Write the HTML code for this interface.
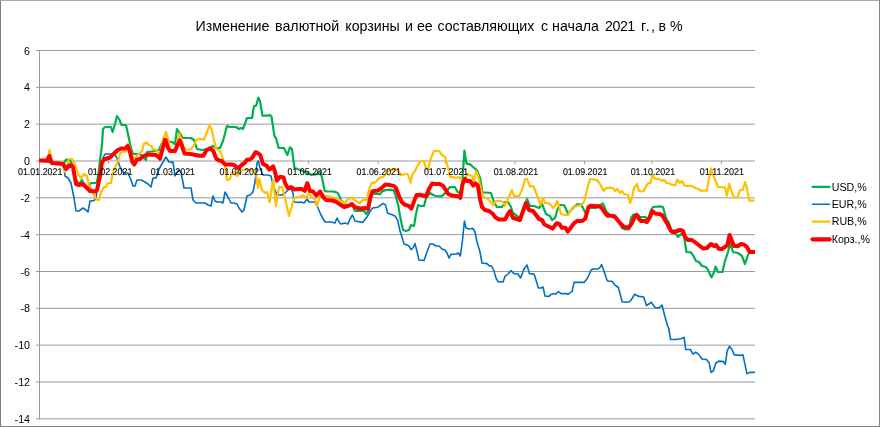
<!DOCTYPE html>
<html><head><meta charset="utf-8">
<style>
html,body{margin:0;padding:0;background:#fff;}
body{width:880px;height:427px;overflow:hidden;}
svg{display:block;}
text{font-family:"Liberation Sans", Arial, sans-serif;fill:#000;}
.t{filter:grayscale(1);}
</style></head>
<body>
<svg width="880" height="427" viewBox="0 0 880 427">
<rect x="0" y="0" width="880" height="427" fill="#fff"/>
<g stroke="#999" stroke-width="1" fill="none">
<line x1="36" y1="50.50" x2="755" y2="50.50" />
<line x1="36" y1="87.33" x2="755" y2="87.33" />
<line x1="36" y1="124.17" x2="755" y2="124.17" />
<line x1="36" y1="161.00" x2="755" y2="161.00" />
<line x1="36" y1="197.84" x2="755" y2="197.84" />
<line x1="36" y1="234.67" x2="755" y2="234.67" />
<line x1="36" y1="271.50" x2="755" y2="271.50" />
<line x1="36" y1="308.34" x2="755" y2="308.34" />
<line x1="36" y1="345.17" x2="755" y2="345.17" />
<line x1="36" y1="382.01" x2="755" y2="382.01" />
<line x1="36" y1="418.84" x2="755" y2="418.84" />
<line x1="39.5" y1="50" x2="39.5" y2="419.3" />
<line x1="108.60" y1="161.00" x2="108.60" y2="164.00" />
<line x1="171.46" y1="161.00" x2="171.46" y2="164.00" />
<line x1="241.06" y1="161.00" x2="241.06" y2="164.00" />
<line x1="308.41" y1="161.00" x2="308.41" y2="164.00" />
<line x1="378.00" y1="161.00" x2="378.00" y2="164.00" />
<line x1="445.36" y1="161.00" x2="445.36" y2="164.00" />
<line x1="514.95" y1="161.00" x2="514.95" y2="164.00" />
<line x1="584.55" y1="161.00" x2="584.55" y2="164.00" />
<line x1="651.90" y1="161.00" x2="651.90" y2="164.00" />
<line x1="721.50" y1="161.00" x2="721.50" y2="164.00" />
</g>
<g fill="none" stroke-linejoin="round" stroke-linecap="butt">
<polyline stroke="#00b050" stroke-width="2.2" points="39,161 47,161 51,162 64,163 66,159.6 70,160 73,166 76,180 79,184 82,180 85,187 87,189 91,183 95,183 97,182 99,170 100,160 102,145 103,129 105,127 111,127 112.6,132 115,124 117,116 119.6,120 121.6,125 126,125 128.4,136 131,148 133,154 136,154 140,154 144,158 146,160 147,152 156,151 159,150 162,143 166,141 172,142 175,144 177,129 179,132 183,138 191,138 194,140 197,149 202,150 208,149 213,146 216,148 220,148 223,141 227,126 230,127 236,127 239,129 241,128 243,129 247,118 252,118 254,106 256,106 258.4,97.6 260,101 262.4,115.6 268,115.6 270,115 271.6,117 274.4,136 276,138 278.6,148 284,148 287.4,155 290,147.4 292,149 294.4,167.7 300,170 307.3,172.9 311.1,174.8 316.9,174.2 320.1,170.9 322.1,178 324.6,190.9 327.2,191.5 333.7,191.5 337.5,192.8 340,197.3 341,200 344,204 349,206 352,205 355,211 361,211 364,211 366.4,214 368.7,210.2 371.7,193.5 376.3,193.8 380.1,194.2 382.4,191.2 385.4,190.1 391.5,189.7 393.8,190.4 396,197 398,204 400,216 403,230 406,231 409,230 411,225 414,226 416,214 418,205 421,206 424,206 426,198 430,193 433,195 436,196 441.3,196.3 444.4,194 449.7,187.2 455,187.2 458,192.5 460.5,192.5 462.3,181.1 464.4,150.7 466.4,163.6 470.2,164.4 472.5,166.5 477,170.4 480.1,178 482.4,192.5 485.4,192.5 491,193 494,202 497,207 502,207 505,202 508,202 511,207 513,213 517,216 520,218 523,211 527,199 530,206 534,206 539,208 542,204 544,209 546,214 550,216 552,220 555,218 558,208 560,205 564,205 566,209 568,214 571,210 574,207 577,204.4 581,204.4 583,208 586,214 589,208 596,208 600,205 603,203.4 606,211 610,215 615,215 618,220 622,228 625,229.4 629,229.4 631,218 633,215 636,214 640,217 645,217 648,219 651,210 653,207 660,206.4 663,207 666,218 669,223 672,233 676,234 678,237 681,234 684,236 686.4,252 691,252.4 694,257 696,261 699,262 702,266 706,267 709,272 711.4,277.4 714,272 715.6,266.6 718,272 722.4,272 725,261 728,252 730,243 733,252 738,253 742,256 745,264 748,255 750,252 755,252"/>
<polyline stroke="#0070c0" stroke-width="1.6" points="39,161 64,164 65,176 68,178 71,183 74,198 76,211 79,211 83,208 86,210 88,212 90,201 94,200.6 96,198 98,184 100,170 103,158 105,154 111,154 114,155 116,156 118,161 120,167 124,173 128,173 131,180 133,186 135,186 137,180 141,180 145,182 148,184 151,187 153,178 156,178 159,169 163,162 166,157 169,162 173,162 175,176 177,172 179,170 181,172 184,188 191,188 193,200 196,203 205,203 208,205 211,206 213,196 215,201 217,202 221,202 223,203 225,192 228,197 231,203 234,203 237,204 239,208 242,212 244,210 247,196 250,195 253,192 255,182 257,163 258.4,161 260,168 263,175 268,175 271,176 273,185 277,195 282,195 285,193 288,190 291,189 293,193 294,202 298,202.4 301,202 304,203 307,199 309,202 315,202 318,208 321,215 325,222 331,222 335,223 337,218 339,222 341,224 345,223 348,224 350,219 352.4,215 355,221 362.6,222.4 366.4,217.8 369.5,212.5 372.5,208 377.8,207.2 380.1,205.7 383.2,203.4 385.4,204.9 387.7,213.3 392.3,214.8 395.3,216.3 397.6,220.1 400,231 402,237 404,244 407,245 409,246 411,249.6 413,248 415,243.6 416.4,249 419,260 424,260.4 427,252 430,244 433,244 436,246 439,246 442,249 445,250 447,253 449,258 451,254.4 456,254 458.4,253 460.3,256 462.4,241 464.4,221 466,228 469,229 473,228.4 475,232 477,242 480,252 482,263 487,263.6 489,265.6 491.6,266 493.6,270 496,278 498,281.6 503,282 505,276.4 508,274 511,270.6 514,273.6 518,274 520.6,278 524,269 527,265 529.4,273.6 534,274 536,280 538.4,288 541,288 543,287 545,296 549,296.4 551,294.4 554,293.6 556,294 558.4,291.6 561,293.6 566,293.6 568,294.4 571,292 572,291.6 574,282.4 584,282.4 587,279 589,275 591,270 593,269 598,269 600,267.4 601.6,264.6 604,271 606.7,279.4 608,281.3 612,281.3 614.8,284.8 618.3,287.5 620.2,294.3 622.1,301.8 625.6,302.3 629.6,301.8 632.3,298.3 634.5,294.3 639.1,296.4 643.7,297 646.4,305.6 648,304.5 651.2,302.3 655.3,307.7 659.3,307.7 662,305 664.7,315.8 667.4,325.3 668.7,328 670.6,339.5 675.5,339.5 680.9,338.7 684.1,337.4 685.7,349.5 690.3,349.5 693,354.1 695.7,352.2 699.2,354.9 701.9,359 706.5,359.5 709.2,363 711,372.4 713.2,371 715.9,363 718.6,361.1 723.5,361.6 725.3,364.3 727.2,350.9 729.4,346.3 732.1,349.5 734.2,354.9 740.2,355.4 742.9,354.9 745,364.3 746.9,373.8 749.6,372.4 755,372.4"/>
<polyline stroke="#ffc000" stroke-width="2.2" points="39,160.6 47,160.6 49.6,150 52,162 56,163 63,164 65,172 69,159 72,159 75,164 78,174 81,178 84,174 87,176 89,185 92,190 95,197 97,200 99,200 101,192 104,187 106,187 108,183 111,183 113,172 116,166 118,161 120,154 122,152 126.2,151.4 127.7,143.8 129.2,146 131,153 133.8,159 135.3,157.5 139,153.7 142.2,150.7 143.7,143.8 146.8,142.3 149,145.3 151.3,146 152.8,149 155.9,149.9 158.2,152.2 159.7,156.7 163,139 166,132 168.4,140.4 170.7,151 174.5,152.6 176.7,145 179,133.6 181.3,138.9 183.6,146.5 185.9,149.6 191.2,149.3 193.5,145.8 196.5,139.7 199.6,138.9 204.1,139.7 205.7,135.1 209.5,125.2 211.8,129.8 214,140.4 216.3,148.8 220.1,151.1 222.4,157.2 225.4,167.8 227,180 230,179 232,172 234,172 237,176 239,174 242,170 246,170 249,170 252,169 256,174 258,188 259.4,179 262,190 265,193 267,192 269.6,202 273,180 276,206 279,187 282,187 285,198 289,216 291.6,207 294,198 297,197 300,197 303,195 306,198 309,193 312,198 315,199 317,206 320,196 324,196 328,196 332,197 336,199 340,200 344,204 348,199 352,198 355,200.3 359.6,203.4 363.4,199.6 366.4,200.3 369.5,188.2 371.7,182.8 374.8,182.8 377.8,179.8 380.1,177.5 383.2,176.7 385.4,174.5 387.7,170.7 393,169.9 396.1,169.1 399.1,172.2 401.4,175.2 403.7,174.5 406.8,173.7 408.3,175.2 410.6,182.8 412.1,175.2 415.1,170.7 418.2,164.6 420.4,161.5 424,161 426,169 428,169 431,158 434,151 439,151 442,155 445,157 448,168 450,177 453,177 456,178 459,177 462,180 465,179 467,174 469,175 472,176 474,181 476,171 478,175 481,190 484,198 487,198 490,201 493,205 496,201 500,201 503,202 505,206 508,199 512,190 514,196 519,196 522,190 525,179 527,179 530,186.5 533,186 535,190 538,198 540.4,205 543,198 545,203 548,203 551,205 553,208 555,206 557,201 559,206 561,214 565,215 568,215 571,210 573,207 577,206 581,205 584,202 587,190 590,179 594,179.6 597,180 600,184 603.6,191 606,188 610,187.6 613,188 615,191 617,189 620,193 622,191 624,194 628,195 630,203 632,198 634,188 637,184 639,191 643.5,191.5 646.3,185.8 648.4,183 650.5,183 652.6,174.6 654,177.4 655.5,178.8 659,178.8 661.8,181 663.9,179.8 666.7,183 669.5,183.4 671.6,184.8 675.8,184.8 677.2,179.5 680,183 682.2,181.2 684.3,185.4 686.4,185.8 691.3,185.8 695.5,188 699,189.3 700.4,190.7 706.7,190.7 708.8,179.5 711,168.3 713,174.6 715.2,180.2 718,187.2 721.5,187.2 725,187.7 726.8,195.7 729.2,183.7 731.3,190.7 733.9,197.5 737.7,197.5 740,190 742.6,190 745.1,182 746.8,188 749.3,200.6 754.5,200.6"/>
<polyline stroke="#ff0000" stroke-width="4.0" points="39,160.6 47,160.4 49.4,156 51.6,163 63,164 66,169 70,165 73,167 76,184 79,185 83,184 87,188 90,191 95,191.6 97,190 100,176 101.8,163 104,159.5 107,158.5 110,157.5 113,154.5 117.8,150 121.6,148.4 125.4,148.4 127.7,146 130,152 132.3,162 134.3,164.4 136.9,159.8 140,159 143.7,156 147.5,154.5 155.9,155 159,157.5 160,158.7 163,147 165.3,139.7 168,148 170,151 175,151 177,146 179.8,140.4 182,146 184.4,153.4 190.4,154 199.6,155.7 203.4,155.7 206.4,150.3 210.2,148.4 213.3,151 216.3,158.7 218.6,160.2 221.6,161 225,164.4 231,164.4 234,165 238,168.2 241.7,165.1 244.8,162.8 247,159.8 250,159.5 252.4,157.5 255.4,152.2 257.7,153 260.3,155 262.9,163.9 266.7,165.8 269.3,169.7 273.2,166.4 275.1,172.2 277,180.6 280.2,176.7 283.5,177.4 285.4,183.8 288,188.3 291.2,187 294.4,189.6 298.9,189 301.5,189 304.7,190.9 307.3,183.2 308.6,187 309.8,190.9 313.1,191.5 316.3,195.4 320.1,191.5 323.4,197.3 326,199.9 332.4,200.5 336.2,201.8 340,204.4 344,207 348,206 352,204 355,207.2 361,208.7 364,208 368,208.7 370.2,198 372.5,191.2 377.8,190.4 381.6,188.2 385.4,184.4 390,185.1 393.8,185.9 396.1,188.2 399.1,196.5 402.2,202.6 405.2,204.9 408.3,205.7 411.3,208.7 413.6,202.6 416.6,195 420,194.8 426,196.3 429.1,188.7 432.2,183.4 435,184 439.8,184.1 442.8,185.7 445.9,190.2 448.2,194 452,195.6 458,196.3 460.3,197.8 462.6,184.1 464.9,178.8 467.2,181.1 470.2,181.1 473.3,185.7 475.6,183.4 477.9,185.7 480.1,199.4 482,207 485,210 489,211 493,214 495,217 499,219.6 505,219.6 508,214 510,211 513,218 517,219 520,220 523,211 526,203 529,210 533,211 536,215 539,219 542,220 544,224 545,224.8 549.6,227 552.6,228.6 556.4,223.3 559.5,224 561.7,227.8 565.5,227.8 567.8,231.6 570.1,228.6 573.9,223.3 577,221 582.3,221 585.3,218.7 588.4,207.3 590.7,205.8 598.3,206.2 601.3,207.3 604.4,211.9 607.4,215.7 612,215.7 615,217.2 616,218 620,223 624,227 629,227.4 632,223 635,216 637,215 639,219 641,221 644,221 647,222 650,217 652.4,211 655,213.4 659,214 662,215 665,220 668,225 671,231 674,232 677,231 680,230 683,231 685,237 688,240 692,240 696,243 700,246 703,248.6 707,248 711,244 714,246 716,245 719,249 722,249 725,247 727.4,245 729.6,235 732,241 734,246 738,246 741,244 744,244.6 747,247 749.6,252 755,252"/>
</g>
<g class="t" font-size="10.67">
<text x="30" y="54.50" text-anchor="end">6</text>
<text x="30" y="91.33" text-anchor="end">4</text>
<text x="30" y="128.17" text-anchor="end">2</text>
<text x="30" y="165.00" text-anchor="end">0</text>
<text x="30" y="201.84" text-anchor="end">-2</text>
<text x="30" y="238.67" text-anchor="end">-4</text>
<text x="30" y="275.50" text-anchor="end">-6</text>
<text x="30" y="312.34" text-anchor="end">-8</text>
<text x="30" y="349.17" text-anchor="end">-10</text>
<text x="30" y="386.01" text-anchor="end">-12</text>
<text x="30" y="422.84" text-anchor="end">-14</text>
</g>
<g class="t" font-size="9.8" text-anchor="middle" stroke="#000" stroke-width="0.12" text-rendering="geometricPrecision">
<text x="40.20" y="174.7" textLength="44.4" lengthAdjust="spacingAndGlyphs">01.01.2021</text>
<text x="110.15" y="174.7" textLength="44.4" lengthAdjust="spacingAndGlyphs">01.02.2021</text>
<text x="172.85" y="174.7" textLength="44.4" lengthAdjust="spacingAndGlyphs">01.03.2021</text>
<text x="241.70" y="174.7" textLength="44.4" lengthAdjust="spacingAndGlyphs">01.04.2021</text>
<text x="309.70" y="174.7" textLength="44.4" lengthAdjust="spacingAndGlyphs">01.05.2021</text>
<text x="378.80" y="174.7" textLength="44.4" lengthAdjust="spacingAndGlyphs">01.06.2021</text>
<text x="446.10" y="174.7" textLength="44.4" lengthAdjust="spacingAndGlyphs">01.07.2021</text>
<text x="515.90" y="174.7" textLength="44.4" lengthAdjust="spacingAndGlyphs">01.08.2021</text>
<text x="585.15" y="174.7" textLength="44.4" lengthAdjust="spacingAndGlyphs">01.09.2021</text>
<text x="652.90" y="174.7" textLength="44.4" lengthAdjust="spacingAndGlyphs">01.10.2021</text>
<text x="721.90" y="174.7" textLength="44.4" lengthAdjust="spacingAndGlyphs">01.11.2021</text>
</g>
<g class="t" font-size="14.2">
<text x="195.6" y="31">Изменение</text>
<text x="275.1" y="31">валютной</text>
<text x="345.3" y="31">корзины</text>
<text x="405.0" y="31">и</text>
<text x="416.9" y="31">ее</text>
<text x="437.4" y="31">составляющих</text>
<text x="541.0" y="31">с</text>
<text x="552.1" y="31">начала</text>
<text x="605.1" y="31" textLength="30.1" lengthAdjust="spacing">2021</text>
<text x="641.1" y="31" textLength="13.8" lengthAdjust="spacing">г.,</text>
<text x="658.6" y="31">в</text>
<text x="670.1" y="31">%</text>
</g>
<g stroke-linecap="round">
<line x1="812.6" y1="186.9" x2="829.5" y2="186.9" stroke="#00b050" stroke-width="2.3"/>
<line x1="812.6" y1="204.3" x2="829.5" y2="204.3" stroke="#0070c0" stroke-width="1.6"/>
<line x1="812.6" y1="221.6" x2="829.5" y2="221.6" stroke="#ffc000" stroke-width="2.3"/>
<line x1="812.6" y1="239.3" x2="829.5" y2="239.3" stroke="#ff0000" stroke-width="4.3"/>
</g>
<g class="t" font-size="10.67">
<text x="831.7" y="190.6">USD,%</text>
<text x="831.7" y="208.0">EUR,%</text>
<text x="831.7" y="225.3">RUB,%</text>
<text x="831.7" y="243.0">Корз.,%</text>
</g>
<g fill="none">
<line x1="0.5" y1="0" x2="0.5" y2="427" stroke="#7a7a7a" stroke-width="1"/>
<line x1="0" y1="0.5" x2="880" y2="0.5" stroke="#a8a8a8" stroke-width="1"/>
<line x1="879.5" y1="0" x2="879.5" y2="427" stroke="#858585" stroke-width="1"/>
<line x1="0" y1="426.5" x2="880" y2="426.5" stroke="#858585" stroke-width="1"/>
</g>
</svg>
</body></html>
